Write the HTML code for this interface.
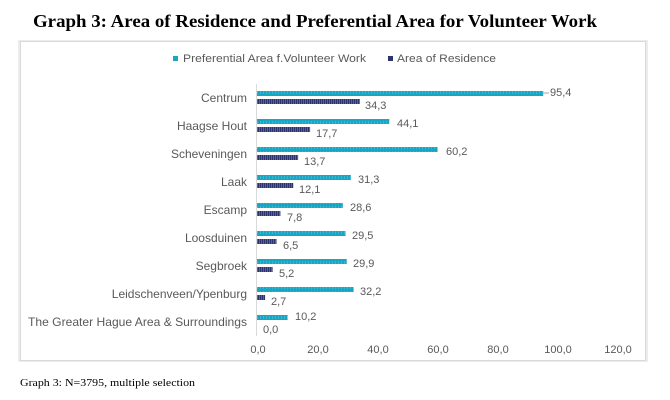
<!DOCTYPE html>
<html>
<head>
<meta charset="utf-8">
<style>
html,body{margin:0;padding:0;background:#fff;}
svg{display:block;}
</style>
</head>
<body>
<svg width="670" height="400" viewBox="0 0 670 400" xmlns="http://www.w3.org/2000/svg">
<defs>
<pattern id="navy" width="2" height="5" patternUnits="userSpaceOnUse">
<rect width="2" height="5" fill="#2c3470"/>
<rect x="1" width="1" height="5" fill="#5a6196"/>
</pattern>
<pattern id="teal" width="3" height="5" patternUnits="userSpaceOnUse">
<rect width="3" height="5" fill="#17a6c3"/>
<rect x="2" y="1" width="1" height="3" fill="#3cb6cf"/>
</pattern>
</defs>
<rect width="670" height="400" fill="#fff"/>
<!-- Title -->
<text x="33" y="27" font-family="Liberation Serif, serif" font-weight="bold" font-size="18" textLength="564" lengthAdjust="spacingAndGlyphs" fill="#000">Graph 3: Area of Residence and Preferential Area for Volunteer Work</text>

<!-- chart frame -->
<rect x="18" y="40" width="630" height="322" fill="#ececec"/>
<rect x="20.5" y="41.5" width="625" height="319" fill="#fff" stroke="#d9d9d9" stroke-width="1"/>

<!-- legend -->
<rect x="173" y="56" width="5" height="5" fill="#17a6c3"/>
<text x="183" y="62" font-family="Liberation Sans, sans-serif" font-size="11" fill="#595959" textLength="183" lengthAdjust="spacingAndGlyphs">Preferential Area f.Volunteer Work</text>
<rect x="388" y="56" width="5" height="5" fill="#2c3470"/>
<text x="397" y="62" font-family="Liberation Sans, sans-serif" font-size="11" fill="#595959" textLength="99" lengthAdjust="spacingAndGlyphs">Area of Residence</text>

<!-- axis line -->
<line x1="256.5" y1="84" x2="256.5" y2="336" stroke="#d9d9d9" stroke-width="1"/>

<g font-family="Liberation Sans, sans-serif" font-size="11" fill="#595959">
<!-- category labels -->
<g text-anchor="end" font-size="12">
<text x="247" y="102">Centrum</text>
<text x="247" y="130">Haagse Hout</text>
<text x="247" y="158">Scheveningen</text>
<text x="247" y="186">Laak</text>
<text x="247" y="214">Escamp</text>
<text x="247" y="242">Loosduinen</text>
<text x="247" y="270">Segbroek</text>
<text x="247" y="298">Leidschenveen/Ypenburg</text>
<text x="247" y="326" textLength="219" lengthAdjust="spacingAndGlyphs">The Greater Hague Area &amp; Surroundings</text>
</g>

<!-- pref bars (3px per unit) -->
<rect x="257" y="91" width="286.2" height="5" fill="url(#teal)"/>
<rect x="257" y="119" width="132.3" height="5" fill="url(#teal)"/>
<rect x="257" y="147" width="180.6" height="5" fill="url(#teal)"/>
<rect x="257" y="175" width="93.9" height="5" fill="url(#teal)"/>
<rect x="257" y="203" width="85.8" height="5" fill="url(#teal)"/>
<rect x="257" y="231" width="88.5" height="5" fill="url(#teal)"/>
<rect x="257" y="259" width="89.7" height="5" fill="url(#teal)"/>
<rect x="257" y="287" width="96.6" height="5" fill="url(#teal)"/>
<rect x="257" y="315" width="30.6" height="5" fill="url(#teal)"/>

<!-- residence bars -->
<rect x="257" y="99" width="102.9" height="5" fill="url(#navy)"/>
<rect x="257" y="127" width="53.1" height="5" fill="url(#navy)"/>
<rect x="257" y="155" width="41.1" height="5" fill="url(#navy)"/>
<rect x="257" y="183" width="36.3" height="5" fill="url(#navy)"/>
<rect x="257" y="211" width="23.4" height="5" fill="url(#navy)"/>
<rect x="257" y="239" width="19.5" height="5" fill="url(#navy)"/>
<rect x="257" y="267" width="15.6" height="5" fill="url(#navy)"/>
<rect x="257" y="295" width="8.1" height="5" fill="url(#navy)"/>

<!-- leader line for Centrum -->
<line x1="543" y1="93" x2="549" y2="93" stroke="#a6a6a6" stroke-width="1"/>

<!-- value labels pref -->
<text x="550" y="96">95,4</text>
<text x="397" y="127">44,1</text>
<text x="446" y="155">60,2</text>
<text x="358" y="183">31,3</text>
<text x="350" y="211">28,6</text>
<text x="352" y="239">29,5</text>
<text x="353" y="267">29,9</text>
<text x="360" y="295">32,2</text>
<text x="295" y="320">10,2</text>

<!-- value labels residence -->
<text x="365" y="109">34,3</text>
<text x="316" y="137">17,7</text>
<text x="304" y="165">13,7</text>
<text x="299" y="193">12,1</text>
<text x="287" y="221">7,8</text>
<text x="283" y="249">6,5</text>
<text x="279" y="277">5,2</text>
<text x="271" y="305">2,7</text>
<text x="263" y="333">0,0</text>

<!-- x tick labels -->
<g text-anchor="middle">
<text x="258" y="353">0,0</text>
<text x="318" y="353">20,0</text>
<text x="378" y="353">40,0</text>
<text x="438" y="353">60,0</text>
<text x="498" y="353">80,0</text>
<text x="558" y="353">100,0</text>
<text x="618" y="353">120,0</text>
</g>
</g>

<!-- footnote -->
<text x="20" y="386" font-family="Liberation Serif, serif" font-size="11" fill="#000" textLength="175" lengthAdjust="spacingAndGlyphs">Graph 3: N=3795, multiple selection</text>
</svg>
</body>
</html>
